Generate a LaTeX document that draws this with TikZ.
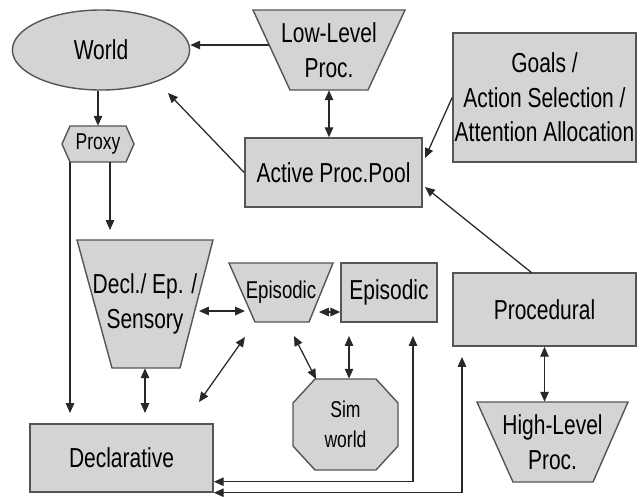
\documentclass[tikz,border=0pt]{standalone}
\usepackage{fontspec}
\setmainfont{Liberation Sans}[FakeStretch=0.765]
\usetikzlibrary{shapes.geometric,arrows.meta}
\definecolor{shadegray}{RGB}{212,212,212}
\definecolor{edgegray}{RGB}{85,85,85}
\definecolor{linegray}{RGB}{40,40,40}
\begin{document}
\begin{tikzpicture}[x=0.025cm,y=-0.025cm,
	part/.style={draw=edgegray,fill=shadegray,line width=1pt},
	box/.style={part,rectangle,inner sep=0pt},
	big/.style={font=\fontsize{19.5}{24.5}\selectfont,align=center,text=black,inner sep=0pt},
	small/.style={font=\fontsize{16.3}{21}\selectfont,align=center,text=black,inner sep=0pt},
	arr/.style={draw=linegray,line width=0.9pt,-{Triangle[length=7pt,width=6pt]}},
	dbl/.style={arr,{Triangle[length=7pt,width=6pt]}-{Triangle[length=7pt,width=6pt]}}]
	\useasboundingbox (0,0) rectangle (642,496);

	\node[part,ellipse,big,minimum width=4.43cm,minimum height=2cm] (world) at (101,50) {World};
	\draw[part](253,10)--(405,10)--(368,90)--(290,90)--cycle;
	\node[big,minimum width=3.8cm,minimum height=2cm] (low) at (329,50) {Low-Level\\Proc.};
	\node[box,big,minimum width=4.43cm,minimum height=1.73cm] (active) at (333.5,172.5) {Active Proc.Pool};
	\node[box,big,minimum width=4.58cm,minimum height=3.23cm] (goals) at (544.5,97.5) {Goals /\\Action Selection /\\Attention Allocation};

	\draw[part](70,126)--(126,126)--(134,144)--(126,162)--(70,162)--(62,144)--cycle;
	\node[small,minimum width=1.8cm,minimum height=0.9cm] (proxy) at (98,144) {Proxy};
	\draw[part](77,240)--(213,240)--(180,368)--(112,368)--cycle;
	\node[big,minimum width=3.4cm,minimum height=3.2cm] (sens) at (145,304) {Decl./ Ep. /\\Sensory};
	\draw[part](229,263)--(333,263)--(309,322)--(255,322)--cycle;
	\node[big,font=\fontsize{17.3}{21}\selectfont,minimum width=2.6cm,minimum height=1.48cm] (epitrap) at (281,292.5) {Episodic};
	\node[box,big,minimum width=2.4cm,minimum height=1.48cm] (epibox) at (389,292.5) {Episodic};
	\node[box,big,minimum width=4.58cm,minimum height=1.83cm] (proc) at (544.5,309.5) {Procedural};

	\draw[part](315,379)--(376,379)--(398,403)--(398,446)--(376,470)--(315,470)--(293,446)--(293,403)--cycle;
	\node[small,minimum width=2.63cm,minimum height=2.28cm] (sim) at (345.5,424.5) {Sim\\world};
	\draw[part](477,402)--(628,402)--(593,482)--(513,482)--cycle;
	\node[big,minimum width=3.78cm,minimum height=2cm] (high) at (552.5,442) {High-Level\\Proc.};
	\node[box,big,minimum width=4.58cm,minimum height=1.7cm] (decl) at (121.5,458) {Declarative};

	\coordinate (lowleft) at (269,45);
	\coordinate (worldtip) at (168,93);
	\coordinate (goalstip) at (425,158);
	\coordinate (proctail) at (532,273);
	\coordinate (proctip) at (425,187);
	\coordinate (sensin) at (110,230);
	\coordinate (declin) at (70,413);
	\coordinate (sensout) at (199,311);
	\coordinate (epiin) at (245,311);
	\coordinate (epiout) at (319,312);
	\coordinate (diaga) at (199,402);
	\coordinate (diagb) at (245,337);
	\coordinate (epilow) at (294,336);
	\coordinate (simcorner) at (316,379);
	\coordinate (boxlow) at (349,336);
	\coordinate (epiback) at (413,336);
	\coordinate (procback) at (462,357);

	\draw[arr](lowleft)--(lowleft -| world.east);
	\draw[dbl](low.south)--(low.south |- active.north);
	\draw[arr](active.west)--(worldtip);
	\draw[arr](goals.west)--(goalstip);
	\draw[arr](proctail)--(proctip);
	\draw[dbl](proc.south)--(proc.south |- high.north);
	\draw[arr](proxy.north |- world.south)--(proxy.north);
	\draw[arr](proxy.south -| sensin)--(sensin);
	\draw[arr](proxy.south -| declin)--(declin);
	\draw[dbl](sens.south)--(sens.south |- declin);
	\draw[dbl](sensout)--(epiin);
	\draw[dbl](epiout)--(epiout -| epibox.west);
	\draw[dbl](diaga)--(diagb);
	\draw[dbl](epilow)--(simcorner);
	\draw[dbl](boxlow)--(boxlow |- sim.north);
	\draw[dbl]([yshift=0.275cm]decl.south east) -| (epiback);
	\draw[dbl](decl.south east) -| (procback);

\end{tikzpicture}
\end{document}
